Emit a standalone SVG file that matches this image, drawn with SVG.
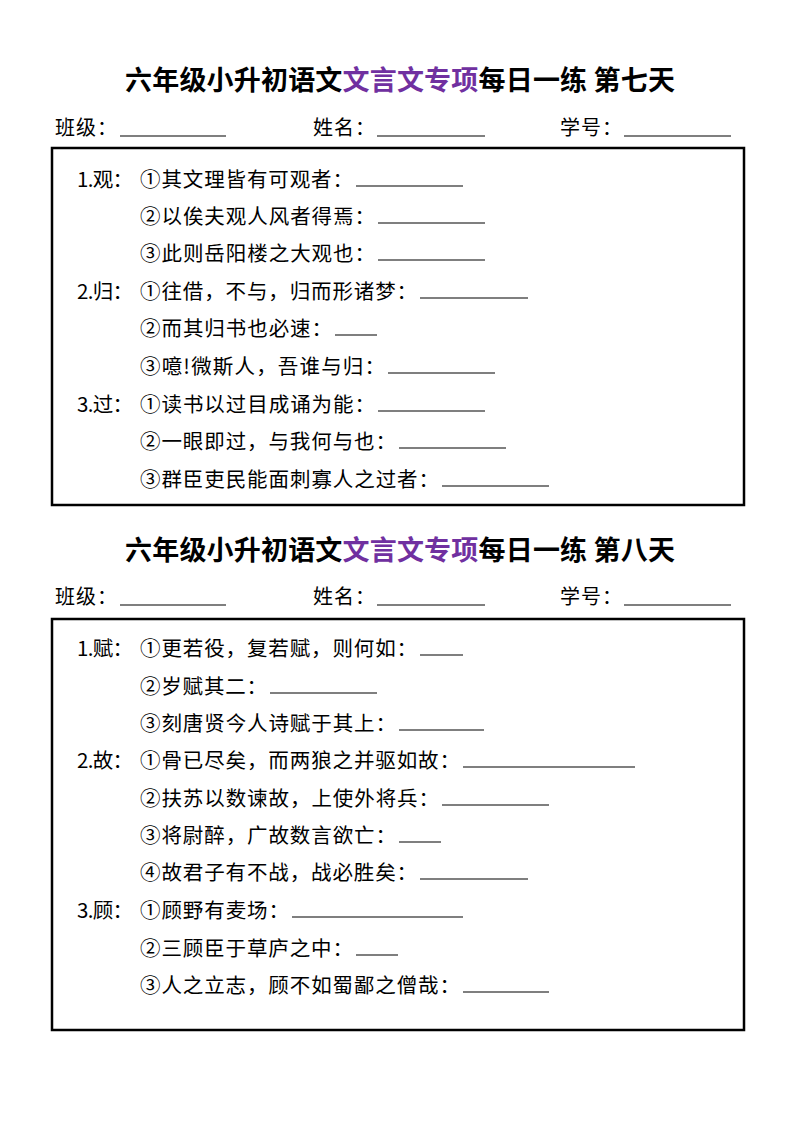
<svg xmlns="http://www.w3.org/2000/svg" width="800" height="1132" viewBox="0 0 800 1132">
<style>
.t{font-family:"Noto Sans CJK SC","Noto Sans",sans-serif;font-size:27px;font-weight:bold;fill:#000;}
.p{fill:#7030A0;}
.h{font-family:"Noto Sans CJK SC","Noto Sans",sans-serif;font-size:20px;fill:#000;}
.q{font-family:"Noto Sans CJK SC","Noto Sans",sans-serif;font-size:20.5px;fill:#000;}
.u{stroke:#000;stroke-width:1.2;}
.box{fill:none;stroke:#000;stroke-width:2.5;}
</style>
<rect width="800" height="1132" fill="#fff"/>
<g id="day7">
<text class="t" x="400" y="90" text-anchor="middle" textLength="550" lengthAdjust="spacing">六年级小升初语文<tspan class="p">文言文专项</tspan>每日一练 第七天</text>
<g id="header7">
<text class="h" x="55" y="135" textLength="62">班级：</text><line class="u" x1="120" y1="136" x2="226" y2="136"/>
<text class="h" x="313" y="135" textLength="62">姓名：</text><line class="u" x1="377" y1="136" x2="485" y2="136"/>
<text class="h" x="560" y="135" textLength="62">学号：</text><line class="u" x1="624" y1="136" x2="731" y2="136"/>
</g>
<rect class="box" x="52" y="148" width="692" height="357"/>
<g id="items7">
<text class="q" x="77" y="187" textLength="56">1.观：</text><text class="q" x="140" y="187" textLength="213">①其文理皆有可观者：</text><line class="u" x1="356" y1="186" x2="463" y2="186"/>
<text class="q" x="140" y="224" textLength="235">②以俟夫观人风者得焉：</text><line class="u" x1="378" y1="223" x2="485" y2="223"/>
<text class="q" x="140" y="261" textLength="235">③此则岳阳楼之大观也：</text><line class="u" x1="378" y1="260" x2="485" y2="260"/>
<text class="q" x="77" y="299" textLength="56">2.归：</text><text class="q" x="140" y="299" textLength="277">①往借，不与，归而形诸梦：</text><line class="u" x1="420" y1="298" x2="528" y2="298"/>
<text class="q" x="140" y="336" textLength="192">②而其归书也必速：</text><line class="u" x1="335" y1="335" x2="377" y2="335"/>
<text class="q" x="140" y="374" textLength="245">③噫!微斯人，吾谁与归：</text><line class="u" x1="388" y1="373" x2="495" y2="373"/>
<text class="q" x="77" y="412" textLength="56">3.过：</text><text class="q" x="140" y="412" textLength="235">①读书以过目成诵为能：</text><line class="u" x1="378" y1="411" x2="485" y2="411"/>
<text class="q" x="140" y="449" textLength="256">②一眼即过，与我何与也：</text><line class="u" x1="399" y1="448" x2="506" y2="448"/>
<text class="q" x="140" y="487" textLength="299">③群臣吏民能面刺寡人之过者：</text><line class="u" x1="442" y1="486" x2="549" y2="486"/>
</g>
</g>
<g id="day8">
<text class="t" x="400" y="560" text-anchor="middle" textLength="550" lengthAdjust="spacing">六年级小升初语文<tspan class="p">文言文专项</tspan>每日一练 第八天</text>
<g id="header8">
<text class="h" x="55" y="604" textLength="62">班级：</text><line class="u" x1="120" y1="605" x2="226" y2="605"/>
<text class="h" x="313" y="604" textLength="62">姓名：</text><line class="u" x1="377" y1="605" x2="485" y2="605"/>
<text class="h" x="560" y="604" textLength="62">学号：</text><line class="u" x1="624" y1="605" x2="731" y2="605"/>
</g>
<rect class="box" x="52" y="619" width="692" height="411"/>
<g id="items8">
<text class="q" x="77" y="656" textLength="56">1.赋：</text><text class="q" x="140" y="656" textLength="277">①更若役，复若赋，则何如：</text><line class="u" x1="420" y1="655" x2="463" y2="655"/>
<text class="q" x="140" y="694" textLength="127">②岁赋其二：</text><line class="u" x1="270" y1="693" x2="377" y2="693"/>
<text class="q" x="140" y="731" textLength="256">③刻唐贤今人诗赋于其上：</text><line class="u" x1="399" y1="730" x2="484" y2="730"/>
<text class="q" x="77" y="768" textLength="56">2.故：</text><text class="q" x="140" y="768" textLength="320">①骨已尽矣，而两狼之并驱如故：</text><line class="u" x1="463" y1="767" x2="635" y2="767"/>
<text class="q" x="140" y="806" textLength="299">②扶苏以数谏故，上使外将兵：</text><line class="u" x1="442" y1="805" x2="549" y2="805"/>
<text class="q" x="140" y="843" textLength="256">③将尉醉，广故数言欲亡：</text><line class="u" x1="399" y1="842" x2="441" y2="842"/>
<text class="q" x="140" y="880" textLength="277">④故君子有不战，战必胜矣：</text><line class="u" x1="420" y1="879" x2="528" y2="879"/>
<text class="q" x="77" y="918" textLength="56">3.顾：</text><text class="q" x="140" y="918" textLength="149">①顾野有麦场：</text><line class="u" x1="292" y1="917" x2="463" y2="917"/>
<text class="q" x="140" y="956" textLength="213">②三顾臣于草庐之中：</text><line class="u" x1="356" y1="955" x2="398" y2="955"/>
<text class="q" x="140" y="993" textLength="320">③人之立志，顾不如蜀鄙之僧哉：</text><line class="u" x1="463" y1="992" x2="549" y2="992"/>
</g>
</g>
</svg>
